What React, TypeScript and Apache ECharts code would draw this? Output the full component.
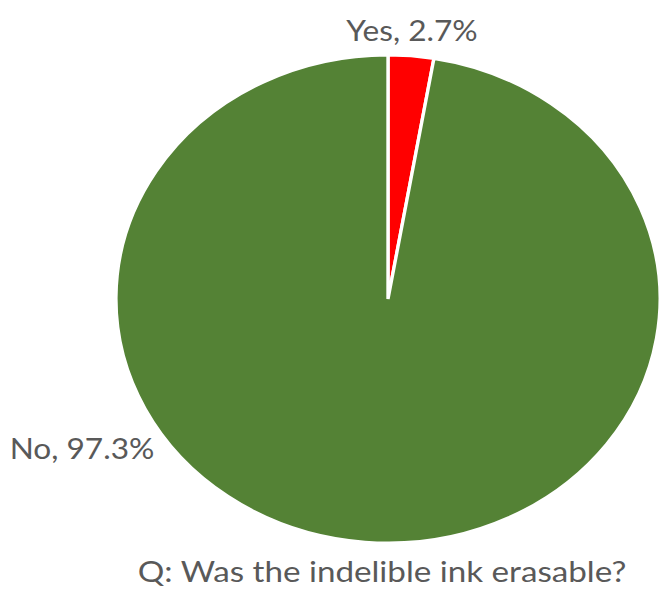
import React, { useEffect, useRef } from "react";
import * as echarts from "echarts";

const categories = ["Yes", "No"];
const values = [2.7, 97.3];
const colors = ["#FF0000", "#548235"];
const titleText = "Q: Was the indelible ink erasable?";

const total = values.reduce((a, b) => a + b, 0);
const cumStart: number[] = [];
values.reduce((acc, v, i) => {
  cumStart[i] = acc;
  return acc + v;
}, 0);

const CX = 388;
const CY = 299;
const RY = 244;
const SX = 1.115;
const FONT = "Lato, 'Open Sans', sans-serif";
const TEXT_COLOR = "#595959";
const labelAnchors = [
  { x: 412, y: 30 },
  { x: 82, y: 448 },
];

export default function App() {
  const ref = useRef<HTMLDivElement>(null);
  useEffect(() => {
    document.body.style.margin = "0";
    const chart = echarts.init(ref.current!, null, { renderer: "svg" });
    chart.setOption({
      animation: false,
      backgroundColor: "#ffffff",
      series: [
        {
          type: "custom",
          coordinateSystem: "none",
          data: values.map((v, i) => ({ name: categories[i], value: [v] })),
          renderItem: (params: any, api: any) => {
            const i = params.dataIndex;
            const v = api.value(0);
            const start = -Math.PI / 2 + (cumStart[i] / total) * Math.PI * 2;
            const end = start + (v / total) * Math.PI * 2;
            const a = labelAnchors[i];
            return {
              type: "group",
              children: [
                {
                  type: "sector",
                  x: CX,
                  y: CY,
                  scaleX: SX,
                  shape: { cx: 0, cy: 0, r0: 0, r: RY, startAngle: start, endAngle: end, clockwise: true },
                  style: { fill: colors[i], stroke: "#ffffff", lineWidth: 3 },
                },
                {
                  type: "text",
                  x: a.x,
                  y: a.y,
                  scaleX: 1.13,
                  style: {
                    text: `${categories[i]}, ${v}%`,
                    fill: TEXT_COLOR,
                    font: `28px ${FONT}`,
                    textAlign: "center",
                    textVerticalAlign: "middle",
                  },
                },
              ],
            };
          },
        },
      ],
      graphic: [
        {
          type: "text",
          x: 382,
          y: 571,
          scaleX: 1.145,
          style: {
            text: titleText,
            fill: TEXT_COLOR,
            font: `29px ${FONT}`,
            textAlign: "center",
            textVerticalAlign: "middle",
          },
        },
      ],
    });
    return () => chart.dispose();
  }, []);
  return <div ref={ref} style={{ position: "fixed", left: 0, top: 0, width: 660, height: 589 }} />;
}
